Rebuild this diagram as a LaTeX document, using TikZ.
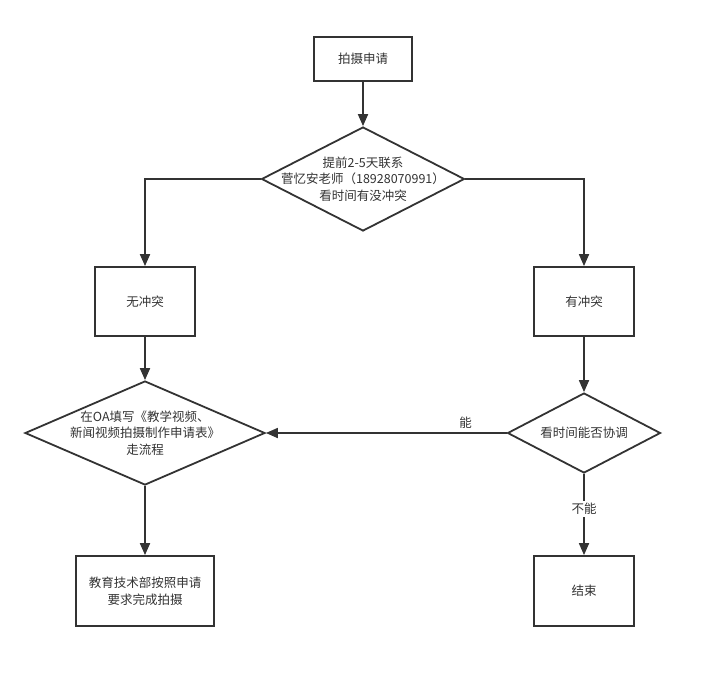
\documentclass[tikz,border=0pt]{standalone}
\usepackage{fontspec}
\setmainfont{Noto Sans CJK SC}
\usetikzlibrary{arrows.meta, shapes.geometric}
\definecolor{ink}{HTML}{333333}

\begin{document}
\begin{tikzpicture}[x=1pt, y=-1pt,
    font=\fontsize{12.5}{16.5}\selectfont, text=ink,
    box/.style={rectangle, draw=ink, line width=1.8pt, inner sep=0pt},
    choice/.style={diamond, draw=ink, line width=1.8pt, inner sep=0pt},
    flow/.style={draw=ink, line width=1.8pt, -{Triangle[length=12pt,width=10pt]}},
    tag/.style={font=\fontsize{12.5}{14}\selectfont, text=ink, fill=white, inner sep=2pt}]
    \useasboundingbox (0, 0) rectangle (703, 675);
    \node[box, minimum width=98pt, minimum height=44pt] (apply) at (363, 59) {拍摄申请};
    \node[choice, minimum width=203pt, minimum height=104pt,
        label={[align=center, text=ink]center:提前2-5天联系\\菅忆安老师（18928070991）\\看时间有没冲突}] (ask) at (363, 179) {};
    \node[box, minimum width=100pt, minimum height=69pt] (free) at (145, 301.5) {无冲突};
    \node[box, minimum width=100pt, minimum height=69pt] (busy) at (584, 301.5) {有冲突};
    \node[choice, minimum width=240pt, minimum height=104pt,
        label={[align=center, text=ink]center:在OA填写《教学视频、\\新闻视频拍摄制作申请表》\\走流程}] (oa) at (145, 433) {};
    \node[choice, minimum width=153pt, minimum height=80pt,
        label={[text=ink]center:看时间能否协调}] (fit) at (584, 433) {};
    \node[box, minimum width=138pt, minimum height=70pt, align=center] (shoot) at (145, 591) {教育技术部按照申请\\要求完成拍摄};
    \node[box, minimum width=100pt, minimum height=70pt] (stop) at (584, 591) {结束};
    \draw[flow] (apply) -- (ask);
    \draw[flow] (ask.west) -| (free.north);
    \draw[flow] (ask.east) -| (busy.north);
    \draw[flow] (free) -- (oa);
    \draw[flow] (busy) -- (fit);
    \draw[flow] (fit.west) -- node[tag, pos=0.17, above, fill=none, yshift=2pt] {能} (oa.east);
    \draw[flow] (fit.south) -- node[tag, pos=0.43] {不能} (stop.north);
    \draw[flow] (oa.south) -- (shoot.north);
\end{tikzpicture}
\end{document}
